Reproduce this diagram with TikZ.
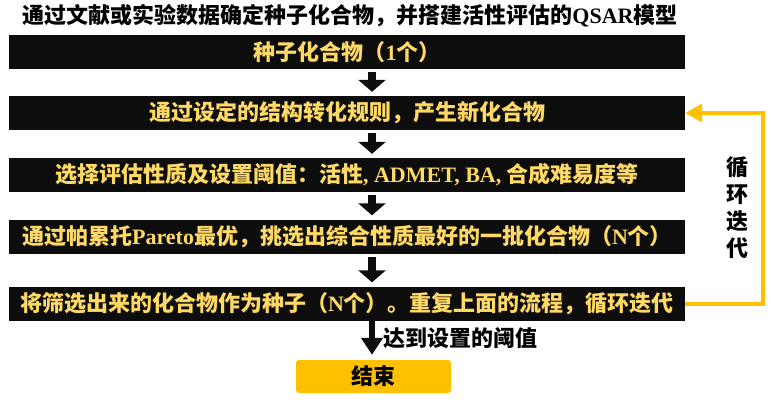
\documentclass[tikz,border=0pt]{standalone}
\usepackage{fontspec}
\usepackage{xcolor}
\usepackage{tikz}
\usetikzlibrary{calc,arrows.meta,positioning}
\setmainfont{Noto Sans CJK SC}
\newfontfamily\latfont{Liberation Serif}
\newcommand{\en}[1]{{\latfont\bfseries #1}}
\definecolor{barc}{HTML}{0D0D0D}
\definecolor{goldc}{HTML}{FFD966}
\definecolor{loopc}{HTML}{FFC000}
\tikzset{
  bar/.style={fill=barc,text=goldc,minimum width=676pt,minimum height=34pt,inner sep=0pt,font=\fontsize{22}{26}\selectfont\bfseries},
  ar/.style={-{Triangle[width=27pt,length=12pt]},line width=8pt,barc,shorten <=3pt,shorten >=4pt},
  arend/.style={-{Triangle[width=21pt,length=17pt]},line width=6pt,barc,shorten >=5pt},
  loopar/.style={-{Triangle[width=18pt,length=17pt]},line width=4pt,loopc},
  lbl/.style={font=\fontsize{22}{27}\selectfont\bfseries,text=black,align=center,inner sep=0pt},
  endbox/.style={fill=loopc,rounded corners=3pt,minimum width=155pt,minimum height=33pt,inner sep=0pt,font=\fontsize{22}{26}\selectfont\bfseries}
}

\begin{document}
\begin{tikzpicture}[x=1pt,y=-1pt]
\useasboundingbox (0,0) rectangle (774,405);
\node[lbl] (title) at (350,16) {通过文献或实验数据确定种子化合物，并搭建活性评估的\en{QSAR}模型};
\node[bar] (b1) at (347,52) {种子化合物（\en{1}个）};
\node[bar] (b2) at (347,113) {通过设定的结构转化规则，产生新化合物};
\node[bar] (b3) at (347,175) {选择评估性质及设置阈值：活性\en{, ADMET, BA, }合成难易度等};
\node[bar] (b4) at (347,236.5) {通过帕累托\en{Pareto}最优，挑选出综合性质最好的一批化合物（\en{N}个）};
\node[bar] (b5) at (347,303.5) {将筛选出来的化合物作为种子（\en{N}个）。重复上面的流程，循环迭代};
\node[endbox] (fin) at (373.5,376.5) {结束};
\coordinate (ax) at (372,0);
\coordinate (lx) at (763,0);
\draw[ar] (b1.south -| ax) -- (b2.north -| ax);
\draw[ar] (b2.south -| ax) -- (b3.north -| ax);
\draw[ar] (b3.south -| ax) -- (b4.north -| ax);
\draw[ar] (b4.south -| ax) -- (b5.north -| ax);
\draw[arend] (b5.south -| ax) -- (fin.north -| ax);
\node[lbl,anchor=west] (thr) at (383,338) {达到设置的阈值};
% loop back
\draw[loopar] (b5.east) -- (b5.east -| lx) |- (b2.east);
\node[lbl] (iter) at (737,208) {循\\环\\迭\\代};
\end{tikzpicture}
\end{document}
